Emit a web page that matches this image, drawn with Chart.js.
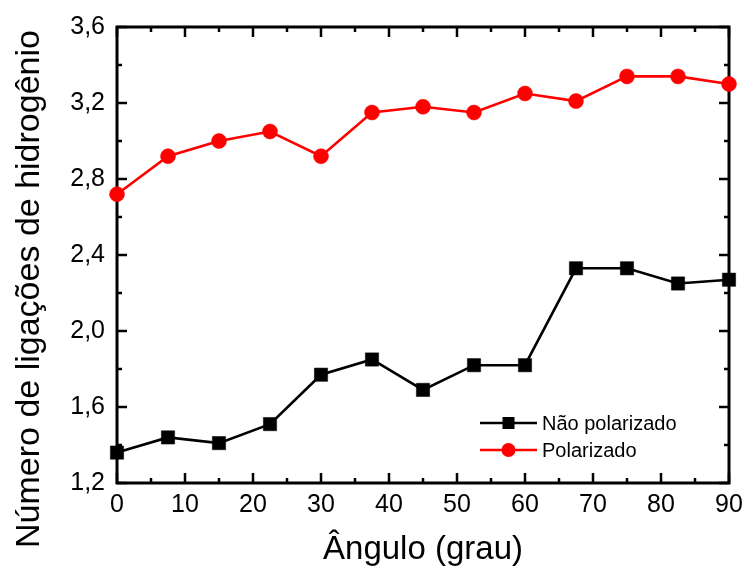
<!DOCTYPE html>
<html>
<head>
<meta charset="utf-8">
<script src="https://cdn.jsdelivr.net/npm/chart.js@4/dist/chart.umd.min.js"></script>
<style>
  html, body { margin: 0; padding: 0; background: #fff; }
  #wrap { width: 742px; height: 574px; }
</style>
</head>
<body>
<div id="wrap"><canvas id="c" width="742" height="574"></canvas></div>
<script>
const angles = [0, 7.5, 15, 22.5, 30, 37.5, 45, 52.5, 60, 67.5, 75, 82.5, 90];
const naoPolarizado = [1.36, 1.44, 1.41, 1.51, 1.77, 1.85, 1.69, 1.82, 1.82, 2.33, 2.33, 2.25, 2.27];
const polarizado = [2.72, 2.92, 3.00, 3.05, 2.92, 3.15, 3.18, 3.15, 3.25, 3.21, 3.34, 3.34, 3.30];
const seriesNames = ['Não polarizado', 'Polarizado'];
const xTicksMajor = [0, 10, 20, 30, 40, 50, 60, 70, 80, 90];
const yTicksMajor = [1.2, 1.6, 2.0, 2.4, 2.8, 3.2, 3.6];
const xTitle = 'Ângulo (grau)';
const yTitle = 'Número de ligações de hidrogênio';

const FONT = '"Liberation Sans", Arial, sans-serif';

const framePlugin = {
  id: 'frame',
  beforeDatasetsDraw(chart) {
    const {ctx, chartArea: a, scales} = chart;
    const xs = scales.x, ys = scales.y;
    ctx.save();
    ctx.strokeStyle = '#000';
    ctx.lineWidth = 3;
    ctx.strokeRect(a.left, a.top, a.right - a.left, a.bottom - a.top);
    ctx.lineWidth = 2.5;
    ctx.beginPath();
    for (let v = 0; v <= 90; v += 5) {
      const px = xs.getPixelForValue(v);
      const len = (v % 10 === 0) ? 10 : 5;
      ctx.moveTo(px, a.bottom); ctx.lineTo(px, a.bottom - len);
      ctx.moveTo(px, a.top); ctx.lineTo(px, a.top + len);
    }
    for (let i = 0; i <= 12; i++) {
      const v = 1.2 + i * 0.2;
      const py = ys.getPixelForValue(v);
      const len = (i % 2 === 0) ? 10 : 5;
      ctx.moveTo(a.left, py); ctx.lineTo(a.left + len, py);
      ctx.moveTo(a.right, py); ctx.lineTo(a.right - len, py);
    }
    ctx.stroke();
    ctx.restore();
  },
  afterDraw(chart) {
    const {ctx} = chart;
    ctx.save();
    ctx.translate(30, 289);
    ctx.rotate(-Math.PI / 2);
    ctx.font = '34px ' + FONT;
    ctx.fillStyle = '#000';
    ctx.textAlign = 'center';
    ctx.textBaseline = 'middle';
    ctx.fillText(yTitle, 0, 0);
    ctx.restore();

    ctx.save();
    const rows = [423, 450];
    chart.data.datasets.forEach((ds, i) => {
      const y = rows[i];
      ctx.strokeStyle = ds.borderColor;
      ctx.lineWidth = 2.5;
      ctx.beginPath();
      ctx.moveTo(480, y); ctx.lineTo(537, y);
      ctx.stroke();
      ctx.fillStyle = ds.pointBackgroundColor;
      if (ds.pointStyle === 'rect') {
        ctx.fillRect(508.5 - 6, y - 6, 12, 12);
      } else {
        ctx.beginPath();
        ctx.arc(508.5, y, 7, 0, Math.PI * 2);
        ctx.fill();
      }
      ctx.fillStyle = '#000';
      ctx.font = '20px ' + FONT;
      ctx.textAlign = 'left';
      ctx.textBaseline = 'middle';
      ctx.fillText(ds.label, 542, y + 1);
    });
    ctx.restore();
  }
};

const chart = new Chart(document.getElementById('c'), {
  type: 'line',
  data: {
    datasets: [
      {
        label: seriesNames[0],
        data: angles.map((a, i) => ({x: a, y: naoPolarizado[i]})),
        borderColor: '#000000',
        backgroundColor: '#000000',
        pointBackgroundColor: '#000000',
        pointBorderColor: '#000000',
        pointStyle: 'rect',
        pointRadius: 9.4,
        pointBorderWidth: 0.5,
        borderWidth: 2.6,
        tension: 0,
        clip: false
      },
      {
        label: seriesNames[1],
        data: angles.map((a, i) => ({x: a, y: polarizado[i]})),
        borderColor: '#ff0000',
        backgroundColor: '#ff0000',
        pointBackgroundColor: '#ff0000',
        pointBorderColor: '#ff0000',
        pointStyle: 'circle',
        pointRadius: 7.5,
        pointBorderWidth: 0.5,
        borderWidth: 2.6,
        tension: 0,
        clip: false
      }
    ]
  },
  options: {
    responsive: false,
    animation: false,
    devicePixelRatio: 1,
    layout: { padding: { top: 26, right: 0, left: 0, bottom: 0 } },
    plugins: { legend: { display: false }, tooltip: { enabled: false } },
    scales: {
      x: {
        type: 'linear',
        min: 0, max: 90,
        grid: { display: false, drawTicks: false },
        border: { display: false },
        afterBuildTicks(scale) { scale.ticks = xTicksMajor.map(v => ({value: v})); },
        ticks: {
          color: '#000',
          font: { family: FONT, size: 25 },
          padding: 7,
          maxRotation: 0,
          autoSkip: false,
          callback: v => String(v)
        },
        title: {
          display: true,
          text: xTitle,
          color: '#000',
          font: { family: FONT, size: 33 },
          padding: { top: 0, bottom: 4 }
        },
        afterFit(scale) { scale.height = 91; scale.paddingRight = 13; }
      },
      y: {
        type: 'linear',
        min: 1.2, max: 3.6,
        grid: { display: false, drawTicks: false },
        border: { display: false },
        afterBuildTicks(scale) { scale.ticks = yTicksMajor.map(v => ({value: v})); },
        ticks: {
          color: '#000',
          font: { family: FONT, size: 25 },
          padding: 12,
          autoSkip: false,
          callback: v => Number(v).toFixed(1).replace('.', ',')
        },
        afterFit(scale) { scale.width = 117; }
      }
    }
  },
  plugins: [framePlugin]
});
</script>
</body>
</html>
